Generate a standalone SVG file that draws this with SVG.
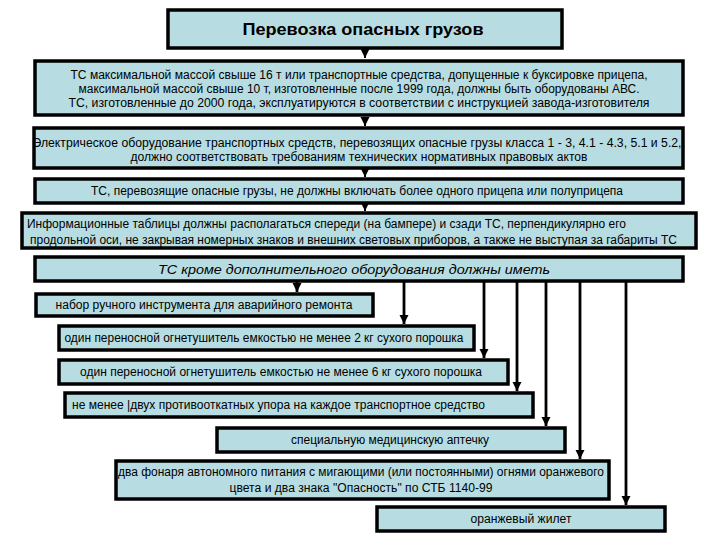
<svg xmlns="http://www.w3.org/2000/svg" width="720" height="540" viewBox="0 0 720 540">
<defs>
<style>
.box{fill:#b7dde2;stroke:#000;stroke-width:3.5}
.t{font-family:"Liberation Sans",Arial,sans-serif;font-size:12px;fill:#000}
.c{text-anchor:middle}
.title{font-family:"Liberation Sans",Arial,sans-serif;font-size:16px;font-weight:bold;text-anchor:middle;fill:#000}
.it{font-style:italic;font-size:13.5px}
.ln{stroke:#000;stroke-width:2;fill:none}
.ln2{stroke:#000;stroke-width:2.8;fill:none}
</style>
<marker id="ah" markerUnits="userSpaceOnUse" markerWidth="10" markerHeight="10" refX="5" refY="9" orient="auto" viewBox="0 0 10 10">
<path d="M0.5,0 L9.5,0 L5,9 Z" fill="#000" transform="rotate(-90 5 5)"/>
</marker>
<marker id="ah2" markerUnits="userSpaceOnUse" markerWidth="10" markerHeight="11" refX="9" refY="5" orient="auto" viewBox="0 0 10 10">
<path d="M0,0.5 L9,5 L0,9.5 Z" fill="#000"/>
</marker>
</defs>
<rect width="720" height="540" fill="#fff"/>

<g id="connectors">
<line class="ln" x1="365" y1="50" x2="365" y2="58" marker-end="url(#ah2)"/>
<line class="ln" x1="365" y1="117" x2="365" y2="126" marker-end="url(#ah2)"/>
<line class="ln" x1="365" y1="170" x2="365" y2="177" marker-end="url(#ah2)"/>
<line class="ln" x1="365" y1="205" x2="365" y2="211" marker-end="url(#ah2)"/>
<line class="ln2" x1="297" y1="282" x2="297" y2="292" marker-end="url(#ah2)"/>
<line class="ln2" x1="404" y1="282" x2="404" y2="324" marker-end="url(#ah2)"/>
<line class="ln2" x1="484" y1="282" x2="484" y2="358" marker-end="url(#ah2)"/>
<line class="ln2" x1="517" y1="282" x2="517" y2="391" marker-end="url(#ah2)"/>
<line class="ln2" x1="546" y1="282" x2="546" y2="426" marker-end="url(#ah2)"/>
<line class="ln2" x1="580" y1="282" x2="580" y2="459" marker-end="url(#ah2)"/>
<line class="ln2" x1="626" y1="282" x2="626" y2="505" marker-end="url(#ah2)"/>
</g>

<g id="n-title">
<rect class="box" x="168" y="10" width="394" height="38"/>
<text class="title" x="363" y="35" textLength="241" lengthAdjust="spacingAndGlyphs">Перевозка опасных грузов</text>
</g>

<g id="n-abs">
<rect class="box" x="35" y="61" width="648" height="54"/>
<text class="t c" x="359" y="79" textLength="577" lengthAdjust="spacingAndGlyphs">ТС максимальной массой свыше 16 т или транспортные средства, допущенные к буксировке прицепа,</text>
<text class="t c" x="359" y="93" textLength="561" lengthAdjust="spacingAndGlyphs">максимальной массой свыше 10 т, изготовленные после 1999 года, должны быть оборудованы АВС.</text>
<text class="t c" x="359" y="107" textLength="581" lengthAdjust="spacingAndGlyphs">ТС, изготовленные до 2000 года, эксплуатируются в соответствии с инструкцией завода-изготовителя</text>
</g>

<g id="n-electric">
<rect class="box" x="34" y="128" width="649" height="40"/>
<text class="t c" x="357" y="147" textLength="649" lengthAdjust="spacingAndGlyphs">Электрическое оборудование транспортных средств, перевозящих опасные грузы класса 1 - 3, 4.1 - 4.3, 5.1 и 5.2,</text>
<text class="t c" x="359" y="161" textLength="457" lengthAdjust="spacingAndGlyphs">должно соответствовать требованиям технических нормативных правовых актов</text>
</g>

<g id="n-trailer">
<rect class="box" x="35" y="179" width="648" height="24"/>
<text class="t c" x="357" y="195" textLength="532" lengthAdjust="spacingAndGlyphs">ТС, перевозящие опасные грузы, не должны включать более одного прицепа или полуприцепа</text>
</g>

<g id="n-tables">
<rect class="box" x="22" y="213" width="674" height="35"/>
<text class="t" x="27" y="228" textLength="599" lengthAdjust="spacingAndGlyphs">Информационные таблицы должны располагаться спереди (на бампере) и сзади ТС, перпендикулярно его</text>
<text class="t" x="30" y="244" textLength="647" lengthAdjust="spacingAndGlyphs">продольной оси, не закрывая номерных знаков и внешних световых приборов, а также не выступая за габариты ТС</text>
</g>

<g id="n-equip">
<rect class="box" x="35" y="257" width="648" height="24"/>
<text class="t c it" x="354" y="274" textLength="392" lengthAdjust="spacingAndGlyphs">ТС кроме дополнительного оборудования должны иметь</text>
</g>

<g id="n-tools">
<rect class="box" x="36" y="294" width="337" height="22"/>
<text class="t c" x="204" y="309" textLength="297" lengthAdjust="spacingAndGlyphs">набор ручного инструмента для аварийного ремонта</text>
</g>

<g id="n-ext2">
<rect class="box" x="59" y="326" width="415" height="24"/>
<text class="t c" x="264" y="342" textLength="399" lengthAdjust="spacingAndGlyphs">один переносной огнетушитель емкостью не менее 2 кг сухого порошка</text>
</g>

<g id="n-ext6">
<rect class="box" x="59" y="360" width="449" height="24"/>
<text class="t c" x="281" y="376" textLength="402" lengthAdjust="spacingAndGlyphs">один переносной огнетушитель емкостью не менее 6 кг сухого порошка</text>
</g>

<g id="n-chocks">
<rect class="box" x="65" y="393" width="468" height="24"/>
<text class="t" x="72" y="409" textLength="413" lengthAdjust="spacingAndGlyphs">не менее |двух противооткатных упора на каждое транспортное средство</text>
</g>

<g id="n-firstaid">
<rect class="box" x="217" y="428" width="348" height="24"/>
<text class="t c" x="390" y="444" textLength="198" lengthAdjust="spacingAndGlyphs">специальную медицинскую аптечку</text>
</g>

<g id="n-lamps">
<rect class="box" x="116" y="461" width="493" height="38"/>
<text class="t c" x="361" y="476" textLength="486" lengthAdjust="spacingAndGlyphs">два фонаря автономного питания с мигающими (или постоянными) огнями оранжевого</text>
<text class="t c" x="361" y="492" textLength="263" lengthAdjust="spacingAndGlyphs">цвета и два знака "Опасность" по СТБ 1140-99</text>
</g>

<g id="n-vest">
<rect class="box" x="377" y="507" width="288" height="24"/>
<text class="t c" x="521" y="523" textLength="101" lengthAdjust="spacingAndGlyphs">оранжевый жилет</text>
</g>
</svg>
